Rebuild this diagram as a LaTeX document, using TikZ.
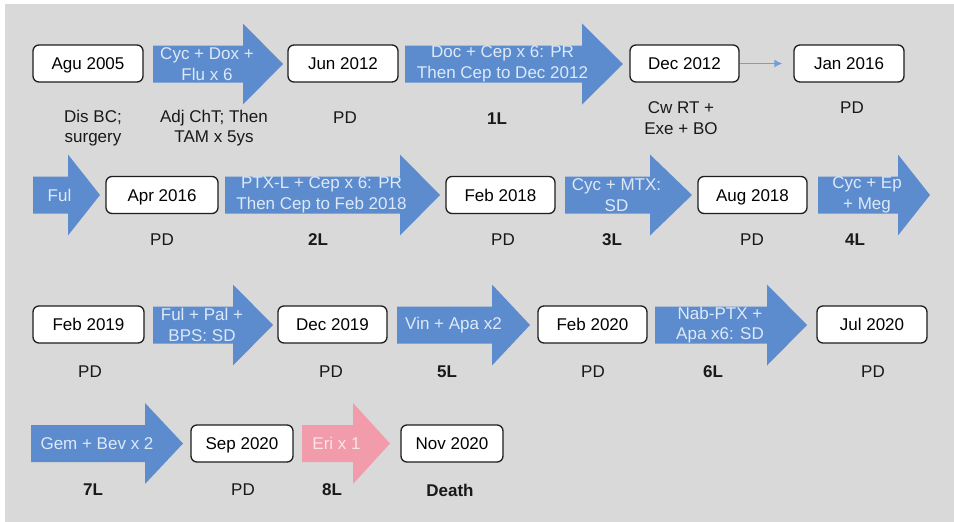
\documentclass[tikz,border=0pt]{standalone}
\usepackage{fontspec}
\setmainfont{Liberation Sans}
\definecolor{panel}{RGB}{217,217,217}
\definecolor{arrblue}{RGB}{92,140,206}
\definecolor{arrpink}{RGB}{242,155,170}
\definecolor{txtblue}{RGB}{222,233,248}
\definecolor{txtpink}{RGB}{252,228,233}
\definecolor{thinblue}{RGB}{112,158,216}
\definecolor{boxline}{RGB}{30,30,30}
\usetikzlibrary{arrows.meta}
\tikzset{
  datebox/.style={draw=boxline, line width=1.3pt, fill=white, rounded corners=6pt,
    minimum height=37pt, inner sep=0pt, text height=12.2pt, text depth=0pt,
    font=\fontsize{17}{20.5}\selectfont, text=black},
  arrowtext/.style={align=center, inner sep=0pt, font=\fontsize{17}{20.5}\selectfont, text=txtblue},
  pinktext/.style={align=center, inner sep=0pt, font=\fontsize{17}{20.5}\selectfont, text=txtpink},
  lab/.style={align=center, inner sep=0pt, font=\fontsize{17}{20.5}\selectfont, text=black!90},
  blab/.style={align=center, inner sep=0pt, font=\fontsize{17}{20.5}\selectfont\bfseries, text=black!90},
  thinarrow/.style={draw=thinblue, line width=1.8pt, -{Latex[length=8pt,width=8pt]}}
}
% #1 name, #2 body left, #3 head base, #4 tip, #5 y centre, #6 fill, #7 text style, #8 text
\newcommand{\fatarrow}[8]{%
  \fill[#6] (#2,#5-18.5) -- (#3,#5-18.5) -- (#3,#5-40.5) -- (#4,#5) -- (#3,#5+40.5) -- (#3,#5+18.5) -- (#2,#5+18.5) -- cycle;
  \node[#7] (#1) at ({(#2+#3)/2+9},#5) {#8};
}
\begin{document}
\begin{tikzpicture}[x=1pt,y=-1pt]
\useasboundingbox (0,0) rectangle (954,522);
\fill[white] (0,0) rectangle (954,522);
\fill[panel] (5,4) rectangle (954,522);

% ---------- Row 1 ----------
\node[datebox, minimum width=110pt] (agu05) at (88,63.5) {Agu 2005};
\fatarrow{a1}{153}{243}{283}{64}{arrblue}{arrowtext}{Cyc + Dox +\\Flu x 6}
\node[datebox, minimum width=110pt] (jun12) at (343,63.5) {Jun 2012};
\fatarrow{a2}{405}{582}{623}{64}{arrblue}{arrowtext}{Doc + Cep x 6: PR\\Then Cep to Dec 2012}
\node[datebox, minimum width=109pt] (dec12) at (684.5,63.5) {Dec 2012};
\node[datebox, minimum width=110pt] (jan16) at (849,63.5) {Jan 2016};
\draw[thinarrow, shorten >=11pt] (dec12) -- (jan16);

\node[lab] (l1a) at (93,128) {Dis BC;\\surgery};
\node[lab] (l1b) at (214,128) {Adj ChT; Then\\TAM x 5ys};
\node[lab] (l1c) at (345,118) {PD};
\node[blab] (l1d) at (497,119) {1L};
\node[lab] (l1e) at (681,118) {Cw RT +\\Exe + BO};
\node[lab] (l1f) at (852,108) {PD};

% ---------- Row 2 ----------
\fatarrow{b1}{33}{68}{100}{195}{arrblue}{arrowtext}{Ful}
\node[datebox, minimum width=112pt] (apr16) at (162,195) {Apr 2016};
\fatarrow{b2}{225}{400}{440}{195}{arrblue}{arrowtext}{PTX-L + Cep x 6: PR\\Then Cep to Feb 2018}
\node[datebox, minimum width=109pt] (feb18) at (500.5,195) {Feb 2018};
\fatarrow{b3}{565}{650}{692}{195}{arrblue}{arrowtext}{Cyc + MTX:\\SD}
\node[datebox, minimum width=109pt] (aug18) at (752.5,195) {Aug 2018};
\fatarrow{b4}{818}{898}{930}{195}{arrblue}{arrowtext}{Cyc + Ep\\+ Meg}

\node[lab] (l2a) at (162,240) {PD};
\node[blab] (l2b) at (318,240) {2L};
\node[lab] (l2c) at (503,240) {PD};
\node[blab] (l2d) at (612,240) {3L};
\node[lab] (l2e) at (752,240) {PD};
\node[blab] (l2f) at (855,240) {4L};

% ---------- Row 3 ----------
\node[datebox, minimum width=111pt] (feb19) at (88.5,324.5) {Feb 2019};
\fatarrow{c1}{153}{233}{273}{325}{arrblue}{arrowtext}{Ful + Pal +\\BPS: SD}
\node[datebox, minimum width=109pt] (dec19) at (332.5,324.5) {Dec 2019};
\fatarrow{c2}{397}{492}{530}{325}{arrblue}{arrowtext}{Vin + Apa x2}
\node[datebox, minimum width=109pt] (feb20) at (592.5,324.5) {Feb 2020};
\fatarrow{c3}{655}{767}{807}{325}{arrblue}{arrowtext}{Nab-PTX +\\Apa x6: SD}
\node[datebox, minimum width=110pt] (jul20) at (872,324.5) {Jul 2020};

\node[lab] (l3a) at (90,372) {PD};
\node[lab] (l3b) at (331,372) {PD};
\node[blab] (l3c) at (447,372) {5L};
\node[lab] (l3d) at (593,372) {PD};
\node[blab] (l3e) at (713,372) {6L};
\node[lab] (l3f) at (873,372) {PD};

% ---------- Row 4 ----------
\fatarrow{d1}{31}{145}{183}{443.5}{arrblue}{arrowtext}{Gem + Bev x 2}
\node[datebox, minimum width=102pt] (sep20) at (242,443.5) {Sep 2020};
\fatarrow{d2}{302}{353}{390}{443.5}{arrpink}{pinktext}{Eri x 1}
\node[datebox, minimum width=102pt] (nov20) at (452,443.5) {Nov 2020};

\node[blab] (l4a) at (93,490) {7L};
\node[lab] (l4b) at (243,490) {PD};
\node[blab] (l4c) at (332,490) {8L};
\node[blab] (l4d) at (450,490) {Death};
\end{tikzpicture}
\end{document}
